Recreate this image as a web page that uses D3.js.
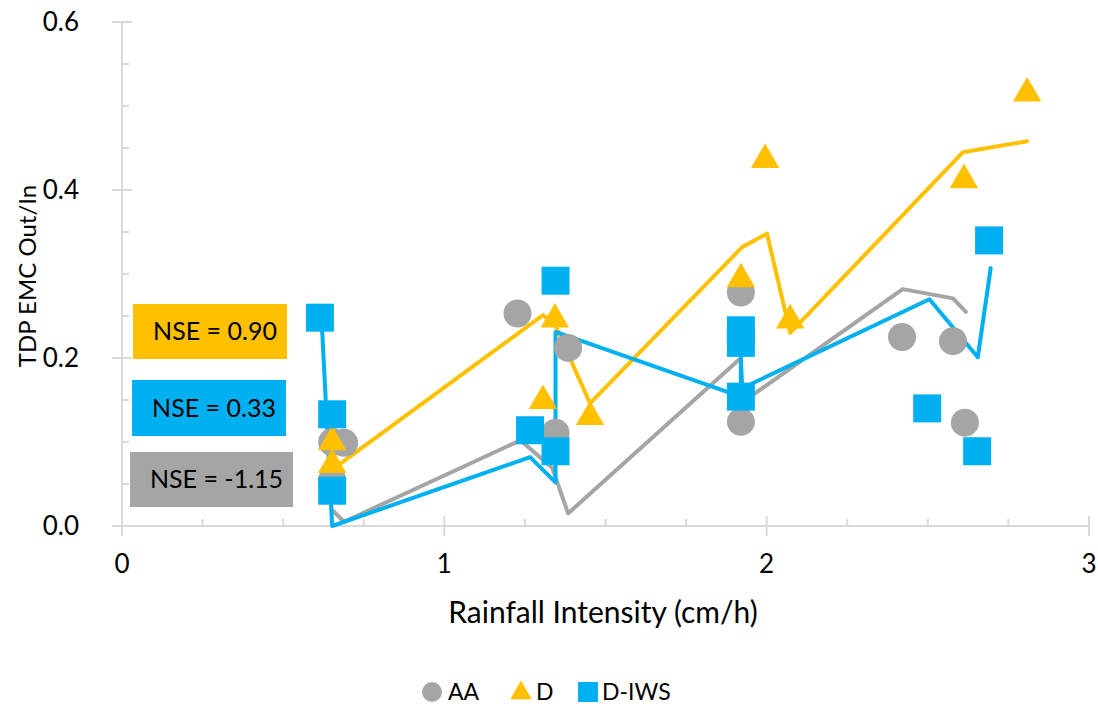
<!DOCTYPE html>
<html>
<head>
<meta charset="utf-8">
<script src="https://cdn.jsdelivr.net/npm/d3@7"></script>
<style>
  html, body { margin: 0; padding: 0; background: #ffffff; }
  svg { display: block; font-family: Lato, "Open Sans", sans-serif; }
</style>
</head>
<body>
<svg id="chart" width="1098" height="707"></svg>
<script>
// Observed TDP EMC ratios (points) per treatment
const aaX = [0.652, 0.689, 0.652, 1.227, 1.345, 1.384, 1.920, 1.920, 2.420, 2.578, 2.615];
const aaY = [0.100, 0.099, 0.055, 0.253, 0.111, 0.212, 0.278, 0.124, 0.225, 0.220, 0.123];

const dX = [0.652, 0.652, 1.306, 1.343, 1.452, 1.920, 1.995, 2.073, 2.612, 2.808];
const dY = [0.100, 0.073, 0.149, 0.246, 0.130, 0.294, 0.436, 0.245, 0.412, 0.515];

const iwsX = [0.614, 0.652, 0.652, 1.266, 1.345, 1.345, 1.920, 1.920, 1.920, 2.498, 2.653, 2.690];
const iwsY = [0.248, 0.133, 0.042, 0.114, 0.292, 0.089, 0.233, 0.218, 0.154, 0.140, 0.089, 0.340];

// Modelled ratios (lines) per treatment
const aaLineX = [0.652, 0.689, 1.236, 1.335, 1.384, 1.920, 1.920, 2.422, 2.578, 2.618];
const aaLineY = [0.019, 0.005, 0.102, 0.069, 0.015, 0.200, 0.146, 0.282, 0.271, 0.255];

const dLineX = [0.652, 1.306, 1.343, 1.452, 1.924, 2.001, 2.073, 2.609, 2.808];
const dLineY = [0.067, 0.251, 0.240, 0.146, 0.332, 0.348, 0.230, 0.445, 0.458];

const iwsLineX = [0.620, 0.652, 1.266, 1.345, 1.345, 1.920, 1.920, 1.924, 2.505, 2.655, 2.695];
const iwsLineY = [0.240, 0.000, 0.082, 0.052, 0.231, 0.154, 0.200, 0.164, 0.270, 0.201, 0.307];

// Axis ticks
const xTicks = [0, 1, 2, 3];
const yTicks = [0, 0.2, 0.4, 0.6];

// Model fit statistics
const nseLabels = ["NSE = 0.90", "NSE = 0.33", "NSE = -1.15"];
const legendLabels = ["AA", "D", "D-IWS"];

const colors = { AA: "#A5A5A5", D: "#FFC000", IWS: "#00B0F0" };
const axisColor = "#D9D9D9";

const svg = d3.select("#chart");
svg.append("rect").attr("width", 1098).attr("height", 707).attr("fill", "#fff");

const x = d3.scaleLinear().domain([0, 3]).range([122, 1089]);
const y = d3.scaleLinear().domain([0, 0.6]).range([526, 22]);

// Minor ticks (inside the plot)
const xMinor = d3.range(0, 3.0001, 0.25).filter(v => Math.abs(v - Math.round(v)) > 1e-6);
const yMinor = d3.range(0, 0.6001, 0.05).filter(v => Math.abs(v * 5 - Math.round(v * 5)) > 1e-6);

const axes = svg.append("g").attr("stroke", axisColor).attr("stroke-width", 2);
axes.append("line").attr("x1", x(0)).attr("x2", x(0)).attr("y1", y(0.6)).attr("y2", y(0));
axes.append("line").attr("x1", x(0)).attr("x2", x(3)).attr("y1", y(0)).attr("y2", y(0));
yTicks.forEach(v => axes.append("line").attr("x1", x(0) - 10).attr("x2", x(0) + 10).attr("y1", y(v)).attr("y2", y(v)));
xTicks.forEach(v => axes.append("line").attr("x1", x(v)).attr("x2", x(v)).attr("y1", y(0) - 10).attr("y2", y(0) + 10));
yMinor.forEach(v => axes.append("line").attr("x1", x(0)).attr("x2", x(0) + 7).attr("y1", y(v)).attr("y2", y(v)));
xMinor.forEach(v => axes.append("line").attr("x1", x(v)).attr("x2", x(v)).attr("y1", y(0) - 7).attr("y2", y(0)));

// Tick labels
svg.append("g").selectAll("text").data(yTicks).join("text")
  .attr("x", 79).attr("y", d => y(d)).attr("dy", "0.35em")
  .attr("text-anchor", "end").attr("font-size", 26).attr("fill", "#000")
  .text(d => d3.format(".1f")(d));
svg.append("g").selectAll("text").data(xTicks).join("text")
  .attr("x", d => x(d)).attr("y", 564).attr("dy", "0.35em")
  .attr("text-anchor", "middle").attr("font-size", 26).attr("fill", "#000")
  .text(d => d);

// Axis titles
svg.append("text").attr("x", 603).attr("y", 612).attr("dy", "0.35em")
  .attr("text-anchor", "middle").attr("font-size", 30).text("Rainfall Intensity (cm/h)");
svg.append("text").attr("transform", "translate(28,276) rotate(-90)").attr("dy", "0.35em")
  .attr("text-anchor", "middle").attr("font-size", 24).text("TDP EMC Out/In");

// Model lines
const line = d3.line().x(d => x(d[0])).y(d => y(d[1]));
const lineSeries = [
  { xs: aaLineX, ys: aaLineY, c: colors.AA },
  { xs: dLineX, ys: dLineY, c: colors.D },
  { xs: iwsLineX, ys: iwsLineY, c: colors.IWS }
];
lineSeries.forEach(s => {
  svg.append("path").attr("d", line(s.xs.map((v, i) => [v, s.ys[i]])))
    .attr("fill", "none").attr("stroke", s.c).attr("stroke-width", 4)
    .attr("stroke-linecap", "round").attr("stroke-linejoin", "round");
});

// Observed markers
const circleSym = d3.symbol().type(d3.symbolCircle).size(Math.PI * 14 * 14);
const triSym = d3.symbol().type(d3.symbolTriangle).size(350);
const sqSym = d3.symbol().type(d3.symbolSquare).size(28 * 28);

svg.append("g").selectAll("path").data(aaX.map((v, i) => [v, aaY[i]])).join("path")
  .attr("d", circleSym).attr("transform", d => `translate(${x(d[0])},${y(d[1])})`)
  .attr("fill", colors.AA);
svg.append("g").selectAll("path").data(dX.map((v, i) => [v, dY[i]])).join("path")
  .attr("d", triSym).attr("transform", d => `translate(${x(d[0])},${y(d[1])})`)
  .attr("fill", colors.D);
svg.append("g").selectAll("path").data(iwsX.map((v, i) => [v, iwsY[i]])).join("path")
  .attr("d", sqSym).attr("transform", d => `translate(${x(d[0])},${y(d[1])})`)
  .attr("fill", colors.IWS);

// NSE boxes
const boxes = [
  { x: 133, y: 304, w: 154, h: 55, c: colors.D, t: nseLabels[0] },
  { x: 132, y: 380, w: 154, h: 56, c: colors.IWS, t: nseLabels[1] },
  { x: 130, y: 452, w: 163, h: 55, c: colors.AA, t: nseLabels[2] }
];
boxes.forEach(b => {
  svg.append("rect").attr("x", b.x).attr("y", b.y).attr("width", b.w).attr("height", b.h).attr("fill", b.c);
  svg.append("text").attr("x", b.x + b.w / 2 + 5).attr("y", b.y + b.h / 2).attr("dy", "0.35em")
    .attr("text-anchor", "middle").attr("font-size", 25).attr("fill", "#000").text(b.t);
});

// Legend
const leg = svg.append("g");
leg.append("path").attr("d", d3.symbol().type(d3.symbolCircle).size(Math.PI * 10 * 10))
  .attr("transform", "translate(432,692)").attr("fill", colors.AA);
leg.append("text").attr("x", 448).attr("y", 692).attr("dy", "0.35em").attr("font-size", 23).text(legendLabels[0]);
leg.append("path").attr("d", d3.symbol().type(d3.symbolTriangle).size(200))
  .attr("transform", "translate(521,693)").attr("fill", colors.D);
leg.append("text").attr("x", 536).attr("y", 692).attr("dy", "0.35em").attr("font-size", 23).text(legendLabels[1]);
leg.append("path").attr("d", d3.symbol().type(d3.symbolSquare).size(400))
  .attr("transform", "translate(588,692)").attr("fill", colors.IWS);
leg.append("text").attr("x", 602).attr("y", 692).attr("dy", "0.35em").attr("font-size", 23).text(legendLabels[2]);
</script>
</body>
</html>
